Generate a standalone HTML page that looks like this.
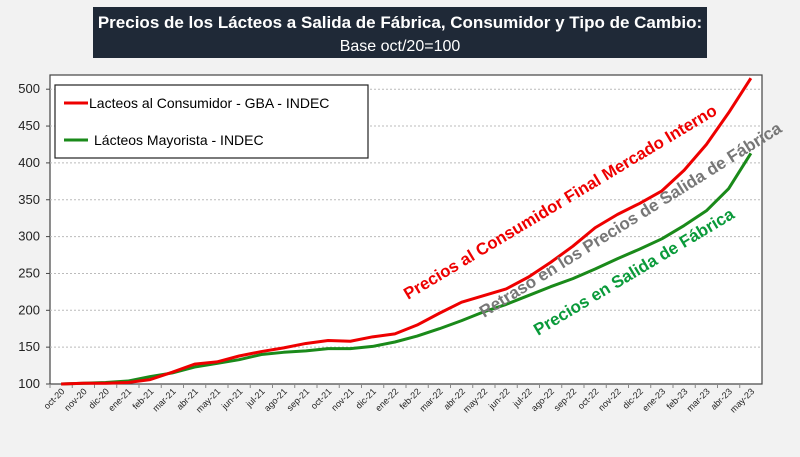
<!DOCTYPE html>
<html><head><meta charset="utf-8"><style>
body{margin:0;background:#f2f2f2;width:800px;height:452px;overflow:hidden;font-family:"Liberation Sans",sans-serif}
</style></head><body>
<svg width="800" height="452" xmlns="http://www.w3.org/2000/svg">
<rect x="0" y="0" width="800" height="452" fill="#f2f2f2"/>
<g>
<rect x="93" y="7" width="614" height="51" fill="#1f2937"/>
<text x="400" y="28" text-anchor="middle" fill="#fff" font-size="17" font-weight="bold">Precios de los Lácteos a Salida de Fábrica, Consumidor y Tipo de Cambio:</text>
<text x="400" y="51" text-anchor="middle" fill="#fff" font-size="16">Base oct/20=100</text>
</g>
<rect x="50" y="75" width="712" height="309" fill="#fff" stroke="#444" stroke-width="1.2"/>
<g id="grid"></g><g id="axes"></g><g id="lines"></g>
<g>
<rect x="55" y="85" width="313" height="73" fill="#fff" stroke="#222" stroke-width="1.2"/>
<line x1="64" y1="103" x2="88" y2="103" stroke="#e00" stroke-width="3"/>
<text x="89" y="108" font-size="14" fill="#000">Lacteos al Consumidor - GBA - INDEC</text>
<line x1="64" y1="140" x2="88" y2="140" stroke="#1a8a1a" stroke-width="3"/>
<text x="94" y="145" font-size="14" fill="#000">Lácteos Mayorista - INDEC</text>
</g>
<text transform="translate(408,300) rotate(-31)" font-size="16.8" font-weight="bold" fill="#e00">Precios al Consumidor Final Mercado Interno</text>
<text transform="translate(484,318) rotate(-32)" font-size="17" font-weight="bold" fill="#777">Retraso en los Precios de Salida de Fábrica</text>
<text transform="translate(538,336) rotate(-31)" font-size="17" font-weight="bold" fill="#0a9a3a">Precios en Salida de Fábrica</text>
</svg>
<script>
const categories=["oct-20","nov-20","dic-20","ene-21","feb-21","mar-21","abr-21","may-21","jun-21","jul-21","ago-21","sep-21","oct-21","nov-21","dic-21","ene-22","feb-22","mar-22","abr-22","may-22","jun-22","jul-22","ago-22","sep-22","oct-22","nov-22","dic-22","ene-23","feb-23","mar-23","abr-23","may-23"];
const consumidor=[100,101,101,102,106,116,127,130,138,144,149,155,159,158,164,168,180,196,211,220,229,245,265,287,312,330,345,362,390,425,468,515];
const mayorista=[100,101,102,104,110,115,123,128,133,140,143,145,148,148,151,157,165,175,186,198,208,220,232,243,256,270,283,297,315,335,365,413];
const yTicks=[100,150,200,250,300,350,400,450,500];
const NS="http://www.w3.org/2000/svg";
const X0=50,W=712,bw=W/categories.length;
const x=i=>X0+bw*(i+0.5);
const y=v=>384-(v-100)*0.737;
function mk(t,a,p){const e=document.createElementNS(NS,t);for(const k in a)e.setAttribute(k,a[k]);p.appendChild(e);return e;}
const grid=document.getElementById('grid'),axes=document.getElementById('axes'),lines=document.getElementById('lines');
yTicks.forEach(v=>{
 if(v>100){const g=mk('line',{x1:X0,x2:X0+W,y1:y(v),y2:y(v),stroke:'#bbb','stroke-dasharray':'2,2'},grid);
 
 }
 const t=mk('text',{x:40,y:y(v)+4,'text-anchor':'end','font-size':13,fill:'#222'},axes);t.textContent=v;
 
 
 mk('line',{x1:X0-4,x2:X0,y1:y(v),y2:y(v),stroke:'#444'},axes);
});
categories.forEach((c,i)=>{
 mk('line',{x1:X0+bw*i,x2:X0+bw*i,y1:384,y2:388,stroke:'#888'},axes);
 const t=mk('text',{transform:`translate(${x(i)+4},392) rotate(-45)`,'text-anchor':'end','font-size':9,fill:'#222'},axes);t.textContent=c;
 
 
});
function line(d,col,name){const p=mk('polyline',{points:d.map((v,i)=>x(i)+','+y(v)).join(' '),fill:'none',stroke:col,'stroke-width':3,'stroke-linejoin':'round'},lines);
 
 }
line(mayorista,'#1a8a1a','line-mayorista');
line(consumidor,'#e00','line-consumidor');
</script>
</body></html>
